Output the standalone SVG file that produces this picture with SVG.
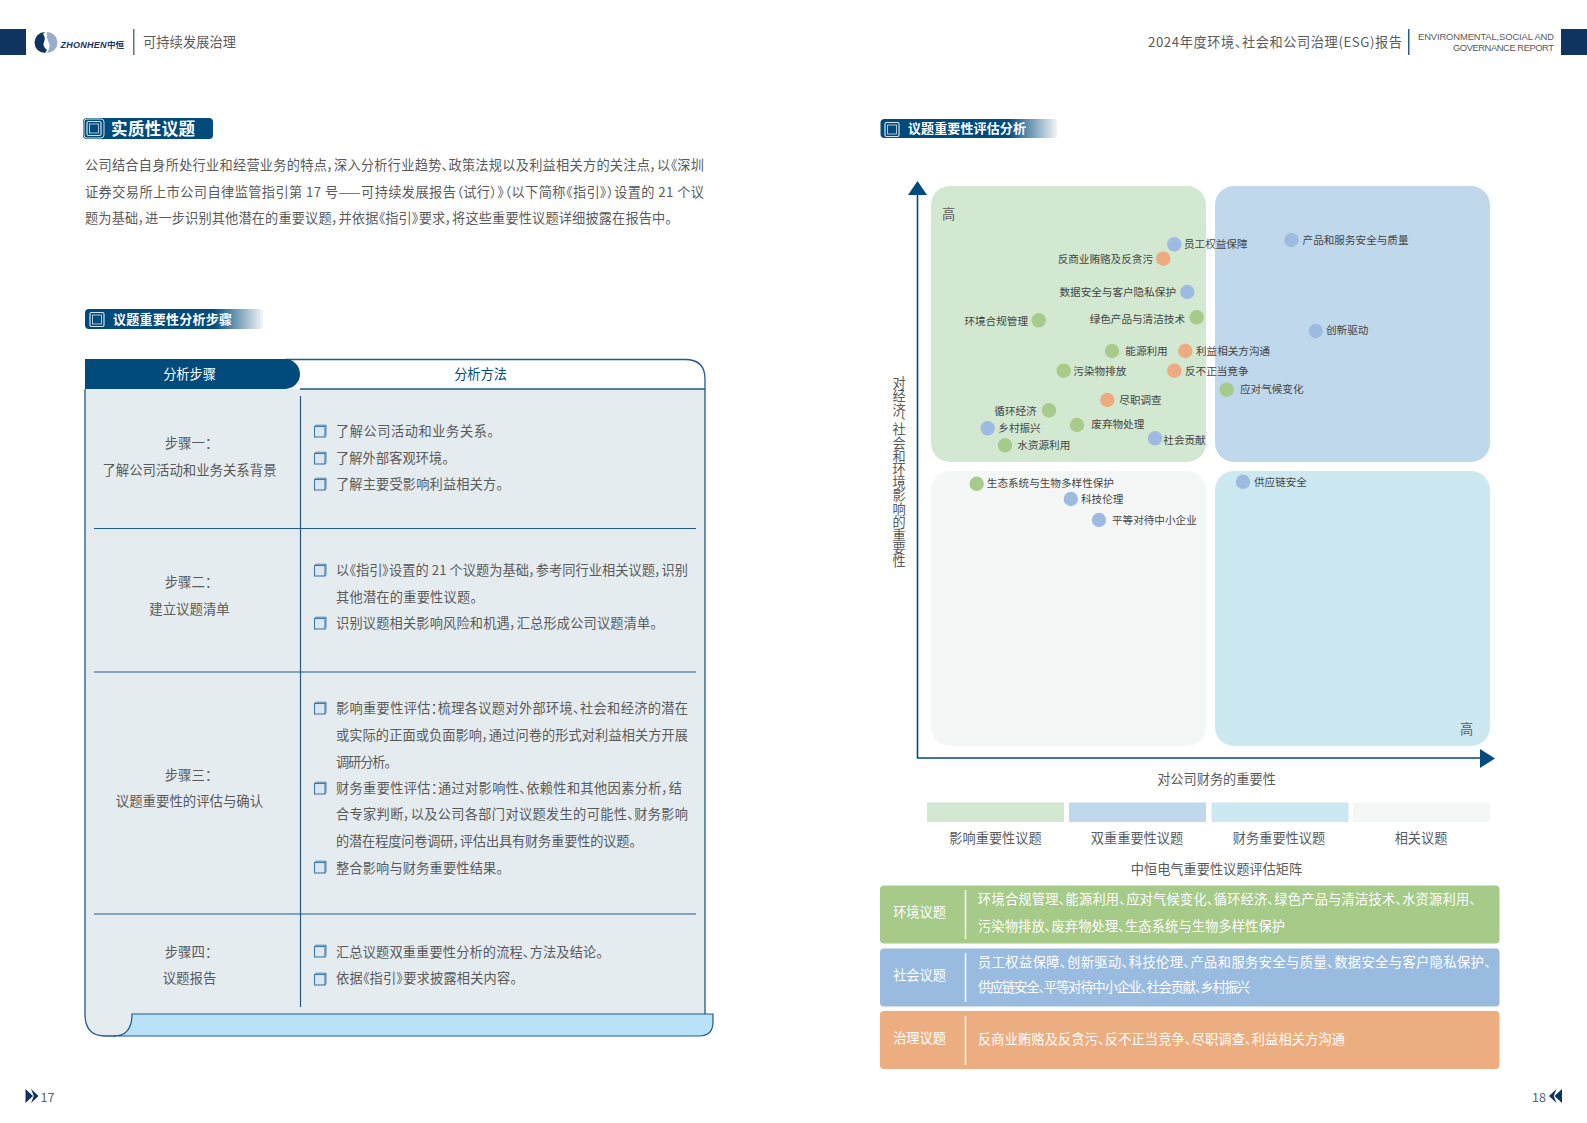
<svg xmlns="http://www.w3.org/2000/svg" width="1587" height="1123" viewBox="0 0 1587 1123">
<style>
text{font-family:"Noto Sans CJK SC","Noto Sans",sans-serif;fill:#5a5a5a;font-size:13.2px;font-feature-settings:"palt"}
.c{text-anchor:middle}.e{text-anchor:end}
.s{font-feature-settings:normal}
.m{font-size:13.4px}
.w{fill:#fff}.h{fill:#fff;font-weight:700}
.l{font-size:10.6px;fill:#444;font-feature-settings:normal}
.g{fill:#a8ca8a}.b{fill:#9dbbe0}.o{fill:#eeaa80}
.n{fill:#0f3460}
.ln{stroke:#1f5a8a;stroke-width:1.2;fill:none}
.ax{stroke:#004a7c;stroke-width:1.6;fill:none}
.wl{stroke:#fff;stroke-width:1.5}
.en{font-family:"Liberation Sans",sans-serif;font-size:9.4px;font-feature-settings:normal}
.pg{fill:#4f6580;font-size:12.5px;font-feature-settings:normal}
</style>
<defs>
<g id="chk"><rect x="-5.5" y="-4.5" width="10.5" height="10.5" fill="#dbe6ee" stroke="#3f7aa8" stroke-width="1.1"/><path d="M-5.5-4.5l1.2-1.3H6v10.5L5 6M5-4.5L6-5.8" fill="none" stroke="#3f7aa8" stroke-width=".9"/></g>
<g id="tick"><rect x="0" y="0" width="14" height="14" rx="1.5" fill="none" stroke="#d5e3ee" stroke-width="1.2"/><rect x="2.5" y="2.5" width="9" height="9" fill="none" stroke="#d5e3ee" stroke-width=".8"/></g>
<linearGradient id="fade" x1="0" x2="1" y1="0" y2="0"><stop offset=".72" stop-color="#004a7c"/><stop offset="1" stop-color="#004a7c" stop-opacity=".05"/></linearGradient>
<circle id="dot" r="7.2"/>
</defs>

<g id="header">
<rect class="n" x="0" y="29" width="26" height="26"/>
<g id="logo">
<path class="n" d="M45 32A10.5 10.5 0 0 0 45 53L47 50Q42 46 44 42Q46 38 43 34Z"/>
<path fill="#9aaccb" d="M47 32A10.500 10.500 0 0 1 47 53Q51 47 48.500 42Q46 37 47 32Z"/>
<text x="60.500" y="48" style="fill:#1c3560;font-family:'Liberation Sans',sans-serif;font-size:9px;font-style:italic;font-weight:700;font-feature-settings:normal" textLength="46">ZHONHEN</text>
<text x="107" y="48" style="fill:#1c3560;font-size:8.500px;font-weight:700;font-feature-settings:normal">中恒</text>
</g>
<rect x="133" y="29" width="1.500" height="26" fill="#5f7390"/>
<text x="143" y="46.500" textLength="93">可持续发展治理</text>
<text x="1148" y="46.500" textLength="254">2024年度环境、社会和公司治理(ESG)报告</text>
<rect x="1408" y="29" width="1.500" height="26" fill="#2f5a85"/>
<text class="e en" x="1554" y="39.500" textLength="136">ENVIRONMENTAL,SOCIAL AND</text>
<text class="e en" x="1554" y="50.500" textLength="101">GOVERNANCE REPORT</text>
<rect class="n" x="1561" y="29" width="26" height="26"/>
</g>

<g id="title-materiality">
<rect x="83" y="118" width="130" height="21" rx="4" fill="#004a7c"/>
<rect x="84" y="119" width="20" height="19" rx="3" fill="#004a7c" stroke="#cfe0ec"/>
<use href="#tick" x="87" y="121.500"/>
<text class="h s" x="111" y="135" style="font-size:16.500px" textLength="84">实质性议题</text>
</g>

<g id="intro">
<text x="85" y="170" textLength="619">公司结合自身所处行业和经营业务的特点，深入分析行业趋势、政策法规以及利益相关方的关注点，以《深圳</text>
<text x="85" y="197" textLength="619">证券交易所上市公司自律监管指引第 17 号——可持续发展报告（试行）》（以下简称《指引》）设置的 21 个议</text>
<text x="85" y="222.500" textLength="587">题为基础，进一步识别其他潜在的重要议题，并依据《指引》要求，将这些重要性议题详细披露在报告中。</text>
</g>

<g id="title-steps">
<rect x="85" y="309" width="178" height="20" rx="4" fill="url(#fade)"/>
<use href="#tick" x="90" y="312.500"/>
<text class="h s" x="113" y="324" style="font-size:13px" textLength="119">议题重要性分析步骤</text>
</g>

<g id="steps-table">
<path d="M85 389H705V1014H132Q132 1036 114 1036H105Q85 1036 85 1014Z" fill="#e4ecf0"/>
<path d="M132 1014H713V1022Q713 1036 699 1036H114Q132 1036 132 1014Z" fill="#b9e2f8" stroke="#1f5a8a" stroke-width="1.200"/>
<path d="M705 1014V389M85 389V1014Q85 1036 105 1036H116" fill="none" stroke="#1f5a8a" stroke-width="1.300"/>
<path d="M285 359.500H685Q705 359.500 705 379V389M300 389H705" fill="none" stroke="#1f5a8a" stroke-width="1.300"/>
<path d="M85 359H285A15 15 0 0 1 285 389H85Z" fill="#004a7c"/>
<path class="ln" d="M94 528.500H696M94 672H696M94 914H696M300.500 396V1007"/>
<text class="c w s" x="189.500" y="379">分析步骤</text>
<text class="c s" x="480.500" y="379" style="fill:#004a7c">分析方法</text>

<text class="c s m" x="191.500" y="448">步骤一：</text>
<text class="c s m" x="189.500" y="475">了解公司活动和业务关系背景</text>
<text class="c s m" x="191.500" y="587">步骤二：</text>
<text class="c s m" x="189.500" y="614">建立议题清单</text>
<text class="c s m" x="191.500" y="780">步骤三：</text>
<text class="c s m" x="189.500" y="805.500">议题重要性的评估与确认</text>
<text class="c s m" x="191.500" y="957">步骤四：</text>
<text class="c s m" x="189.500" y="983">议题报告</text>

<use href="#chk" x="320" y="431"/><text x="336" y="436" textLength="158">了解公司活动和业务关系。</text>
<use href="#chk" x="320" y="458"/><text x="336" y="463" textLength="113">了解外部客观环境。</text>
<use href="#chk" x="320" y="484"/><text x="336" y="489" textLength="167">了解主要受影响利益相关方。</text>

<use href="#chk" x="320" y="570"/><text x="336" y="575" textLength="352">以《指引》设置的 21 个议题为基础，参考同行业相关议题，识别</text>
<text x="336" y="602" textLength="141">其他潜在的重要性议题。</text>
<use href="#chk" x="320" y="623"/><text x="336" y="628" textLength="321">识别议题相关影响风险和机遇，汇总形成公司议题清单。</text>

<use href="#chk" x="320" y="708"/><text x="336" y="713" textLength="352">影响重要性评估：梳理各议题对外部环境、社会和经济的潜在</text>
<text x="336" y="740" textLength="352">或实际的正面或负面影响，通过问卷的形式对利益相关方开展</text>
<text x="336" y="767" textLength="55">调研分析。</text>
<use href="#chk" x="320" y="788"/><text x="336" y="793" textLength="346">财务重要性评估：通过对影响性、依赖性和其他因素分析，结</text>
<text x="336" y="819" textLength="352">合专家判断，以及公司各部门对议题发生的可能性、财务影响</text>
<text x="336" y="846" textLength="300">的潜在程度问卷调研，评估出具有财务重要性的议题。</text>
<use href="#chk" x="320" y="867"/><text x="336" y="873" textLength="167">整合影响与财务重要性结果。</text>

<use href="#chk" x="320" y="951"/><text x="336" y="957" textLength="267">汇总议题双重重要性分析的流程、方法及结论。</text>
<use href="#chk" x="320" y="979"/><text x="336" y="983" textLength="181">依据《指引》要求披露相关内容。</text>
</g>

<g id="title-matrix">
<rect x="880.500" y="119" width="177" height="19" rx="4" fill="url(#fade)"/>
<use href="#tick" x="885" y="122.500"/>
<text class="h s" x="908" y="133" style="font-size:13px" textLength="118">议题重要性评估分析</text>
</g>

<g id="matrix">
<rect x="931" y="186" width="275" height="276" rx="19" fill="#d2e8d0"/>
<rect x="1215" y="186" width="275" height="276" rx="19" fill="#c0d8ec"/>
<rect x="931" y="471" width="275" height="275" rx="19" fill="#f5f7f6"/>
<rect x="1215" y="471" width="275" height="275" rx="19" fill="#cce9f2"/>
<text x="942" y="218.500">高</text>
<text x="1460" y="734">高</text>
<text x="899" y="376.500" style="writing-mode:vertical-rl;font-feature-settings:'vpal';letter-spacing:0">对经济、社会和环境影响的重要性</text>
<text class="c" x="1216.500" y="784">对公司财务的重要性</text>
</g>

<g id="connectors">
<path class="ax" d="M917.500 194V758H1481"/>
<path d="M908 195L917.500 181L927 195Z" fill="#004a7c"/>
<path d="M1480 749L1495 758.500L1480 768Z" fill="#004a7c"/>
</g>

<g id="topic-employee"><use href="#dot" class="b" x="1174.300" y="244.300"/><text class="l" x="1184" y="248">员工权益保障</text></g>
<g id="topic-bribery"><use href="#dot" class="o" x="1163.300" y="258.700"/><text class="l e" x="1153" y="263">反商业贿赂及反贪污</text></g>
<g id="topic-data"><use href="#dot" class="b" x="1187.300" y="292"/><text class="l e" x="1176" y="296">数据安全与客户隐私保护</text></g>
<g id="topic-green"><use href="#dot" class="g" x="1196.700" y="317.300"/><text class="l e" x="1185" y="323">绿色产品与清洁技术</text></g>
<g id="topic-compliance"><use href="#dot" class="g" x="1038.700" y="320.300"/><text class="l e" x="1028" y="325">环境合规管理</text></g>
<g id="topic-energy"><use href="#dot" class="g" x="1112" y="351"/><text class="l" x="1125.300" y="355">能源利用</text></g>
<g id="topic-stakeholder"><use href="#dot" class="o" x="1185.300" y="351"/><text class="l" x="1196" y="355">利益相关方沟通</text></g>
<g id="topic-pollution"><use href="#dot" class="g" x="1063.700" y="370.700"/><text class="l" x="1073.300" y="375">污染物排放</text></g>
<g id="topic-competition"><use href="#dot" class="o" x="1174.300" y="370.700"/><text class="l" x="1185" y="375">反不正当竞争</text></g>
<g id="topic-duediligence"><use href="#dot" class="o" x="1107.300" y="400"/><text class="l" x="1119.300" y="404">尽职调查</text></g>
<g id="topic-circular"><use href="#dot" class="g" x="1049" y="410.300"/><text class="l e" x="1036.700" y="415">循环经济</text></g>
<g id="topic-waste"><use href="#dot" class="g" x="1077" y="425"/><text class="l" x="1091.300" y="428">废弃物处理</text></g>
<g id="topic-rural"><use href="#dot" class="b" x="987.700" y="428.300"/><text class="l" x="998.300" y="432">乡村振兴</text></g>
<g id="topic-social"><use href="#dot" class="b" x="1155" y="438.300"/><text class="l" x="1163.300" y="444">社会贡献</text></g>
<g id="topic-water"><use href="#dot" class="g" x="1005" y="445.300"/><text class="l" x="1017.300" y="449">水资源利用</text></g>
<g id="topic-product"><use href="#dot" class="b" x="1291.500" y="240"/><text class="l" x="1302.600" y="244">产品和服务安全与质量</text></g>
<g id="topic-innovation"><use href="#dot" class="b" x="1315.700" y="331"/><text class="l" x="1326" y="334">创新驱动</text></g>
<g id="topic-climate"><use href="#dot" class="g" x="1226.700" y="389.700"/><text class="l" x="1240" y="393">应对气候变化</text></g>
<g id="topic-ecosystem"><use href="#dot" class="g" x="976.700" y="483.800"/><text class="l" x="986.800" y="486.500">生态系统与生物多样性保护</text></g>
<g id="topic-ethics"><use href="#dot" class="b" x="1070.800" y="499"/><text class="l" x="1081" y="502.500">科技伦理</text></g>
<g id="topic-sme"><use href="#dot" class="b" x="1099" y="520"/><text class="l" x="1112" y="524">平等对待中小企业</text></g>
<g id="topic-supply"><use href="#dot" class="b" x="1243" y="481.800"/><text class="l" x="1254" y="486">供应链安全</text></g>

<g id="legend">
<rect x="927" y="802.500" width="137" height="19.500" fill="#d2e8d0"/>
<rect x="1069" y="802.500" width="137" height="19.500" fill="#c0d8ec"/>
<rect x="1211.500" y="802.500" width="137" height="19.500" fill="#cce9f2"/>
<rect x="1353" y="802.500" width="137" height="19.500" fill="#f5f7f6"/>
<text class="c" x="995.500" y="843">影响重要性议题</text>
<text class="c" x="1137" y="843">双重重要性议题</text>
<text class="c" x="1279" y="843">财务重要性议题</text>
<text class="c" x="1421" y="843">相关议题</text>
<text class="c" x="1216.500" y="873.500">中恒电气重要性议题评估矩阵</text>
</g>

<g id="row-env">
<rect x="880" y="885.500" width="619.500" height="58" rx="4" fill="#a6ca88"/>
<line class="wl" x1="965.500" y1="890" x2="965.500" y2="939"/>
<text class="c w" x="919.500" y="917">环境议题</text>
<text class="w" x="978" y="904" textLength="498">环境合规管理、能源利用、应对气候变化、循环经济、绿色产品与清洁技术、水资源利用、</text>
<text class="w" x="978" y="930.500" textLength="307">污染物排放、废弃物处理、生态系统与生物多样性保护</text>
</g>
<g id="row-soc">
<rect x="880" y="948.500" width="619.500" height="58" rx="4" fill="#99bbdf"/>
<line class="wl" x1="965.500" y1="953" x2="965.500" y2="1002"/>
<text class="c w" x="919.500" y="979.500">社会议题</text>
<text class="w" x="978" y="966.500" textLength="513">员工权益保障、创新驱动、科技伦理、产品和服务安全与质量、数据安全与客户隐私保护、</text>
<text class="w" x="978" y="992" textLength="272">供应链安全、平等对待中小企业、社会贡献、乡村振兴</text>
</g>
<g id="row-gov">
<rect x="880" y="1011" width="619.500" height="58" rx="4" fill="#ecad80"/>
<line class="wl" x1="965.500" y1="1016" x2="965.500" y2="1065"/>
<text class="c w" x="919.500" y="1043">治理议题</text>
<text class="w" x="978" y="1044" textLength="367">反商业贿赂及反贪污、反不正当竞争、尽职调查、利益相关方沟通</text>
</g>

<g id="footer">
<path class="n" d="M25.500 1089L33 1096L25.500 1103ZM31 1089L38.500 1096L31 1103L33.800 1096Z"/>
<text class="pg" x="40.500" y="1102">17</text>
<text class="pg" x="1532" y="1102">18</text>
<path class="n" d="M1562 1089L1554.500 1096L1562 1103ZM1556.500 1089L1549 1096L1556.500 1103L1553.700 1096Z"/>
</g>
</svg>
